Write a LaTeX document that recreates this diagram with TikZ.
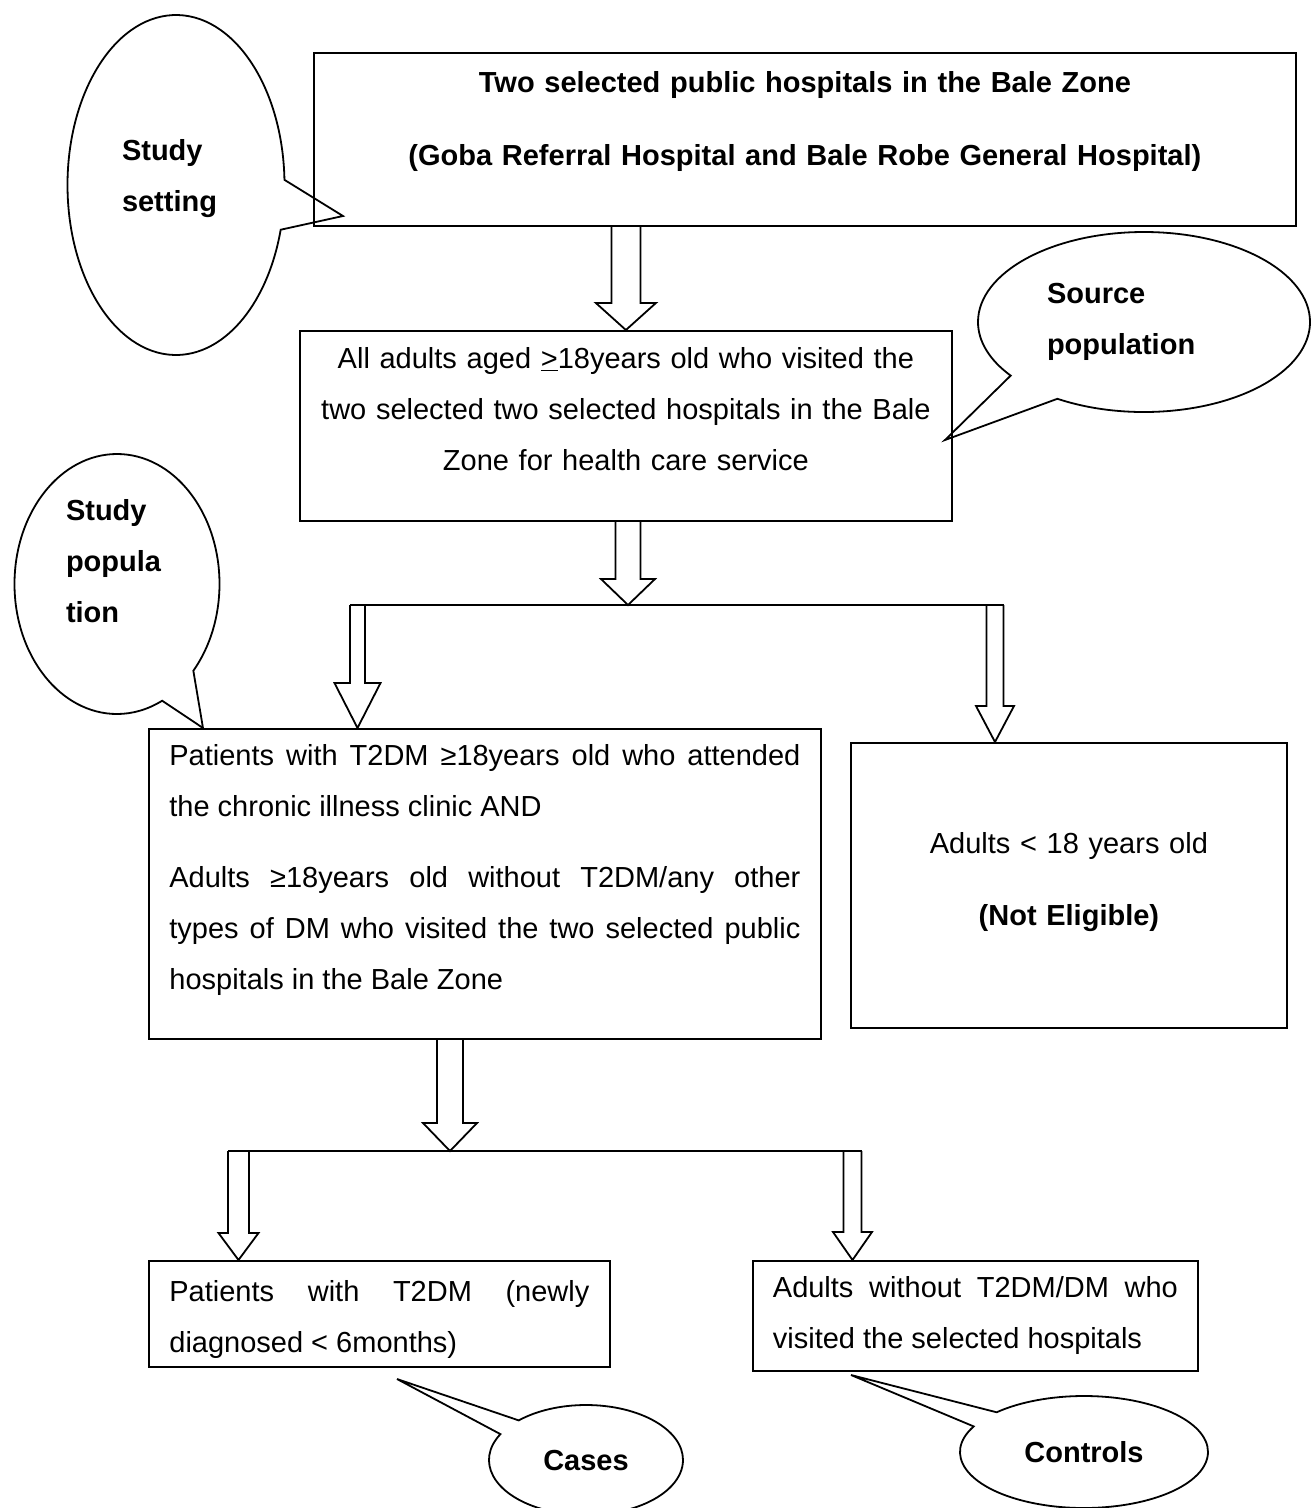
\documentclass[tikz,border=0pt]{standalone}
\usepackage{fontspec}
\setmainfont{Liberation Sans}
\usetikzlibrary{calc,shapes.callouts}

\tikzset{
  box/.style={draw, anchor=north west, inner xsep=20pt, inner ysep=0pt,
    font=\fontsize{29}{51}\selectfont},
  bubble/.style={ellipse callout, draw, align=left, inner sep=0pt,
    callout pointer arc=22, font=\bfseries\fontsize{29}{51}\selectfont},
  hollow/.style n args={3}{to path={let \p1=(\tikztostart), \p2=(\tikztotarget) in
    (\x1-#1,\y1) -- (\x1-#1,\y2+#3) -- (\x1-#2,\y2+#3) -- (\x1,\y2)
    -- (\x1+#2,\y2+#3) -- (\x1+#1,\y2+#3) -- (\x1+#1,\y1)}}
}

\begin{document}
\begin{tikzpicture}[x=1pt,y=-1pt,line width=1.8pt]

      \useasboundingbox (0,0) rectangle (1315,1508);

      \begin{scope}[every node/.style=box]
        \node[text width=942pt, minimum width=982pt, minimum height=173pt, align=center, text depth=115pt] (hosp) at (313,52)
          {\textbf{Two selected public hospitals in the Bale Zone}\\[22pt]\textbf{(Goba Referral Hospital and Bale Robe General Hospital)}};
        \node[inner xsep=10pt, text width=632pt, minimum width=652pt, minimum height=190pt, align=center, text depth=136pt] (adults) at (299,330)
          {All adults aged \underline{>}18years old who visited the\\two selected two selected hospitals in the Bale\\Zone for health care service};
        \node[inner xsep=20.5pt, text width=631pt, minimum width=672pt, minimum height=310pt, align=justify, text depth=258pt] (elig) at (148,728)
          {Patients with T2DM ≥18years old who attended\linebreak the chronic illness clinic AND\\[20pt]Adults ≥18years old without T2DM/any other\linebreak types of DM who visited the two selected public\linebreak hospitals in the Bale Zone};
        \node[text width=396pt, minimum width=436pt, minimum height=285pt, align=center, text depth=85pt] (under) at (850,742)
          {Adults < 18 years old\\[21pt]\textbf{(Not Eligible)}};
        \node[inner xsep=20.5pt, text width=420pt, minimum width=461pt, minimum height=106pt, align=justify, text depth=45pt] (newdm) at (148,1260)
          {Patients with T2DM (newly\linebreak diagnosed < 6months)};
        \node[text width=405pt, minimum width=445pt, minimum height=110pt, align=justify] (nodm) at (752,1260)
          {Adults without T2DM/DM who\linebreak visited the selected hospitals};
      \end{scope}

      \coordinate (j1)  at (628,605);
      \coordinate (j1l) at (357.5,605);
      \coordinate (j1r) at (995,605);
      \coordinate (j2)  at (450,1151);
      \coordinate (j2l) at (238.5,1151);
      \coordinate (j2r) at (852.5,1151);

      \draw[hollow={14.5pt}{30pt}{27pt}] (adults.north |- hosp.south) to (adults.north);
      \draw[hollow={12.5pt}{27pt}{26pt}] (j1 |- adults.south) to (j1);
      \draw ([xshift=-7.5pt]j1l) -- ([xshift=8.5pt]j1r);
      \draw[hollow={7.5pt}{23pt}{45pt}] (j1l) to (j1l |- elig.north);
      \draw[hollow={8.5pt}{19pt}{36pt}] (j1r) to (j1r |- under.north);
      \draw[hollow={13pt}{27pt}{28pt}] (j2 |- elig.south) to (j2);
      \draw ([xshift=-10.5pt]j2l) -- ([xshift=9pt]j2r);
      \draw[hollow={10.5pt}{20pt}{27pt}] (j2l) to (j2l |- newdm.north);
      \draw[hollow={9pt}{19.5pt}{28pt}] (j2r) to (j2r |- nodm.north);

      \begin{scope}[every node/.style=bubble]
        \node[minimum width=217pt, minimum height=340pt, text width=108pt, text depth=71pt, callout absolute pointer={(343,216)}, callout pointer arc=17] (setting) at (176,185) {Study\\setting};
        \node[minimum width=332pt, minimum height=180pt, text width=194pt, callout absolute pointer={(945,440)}] (source) at (1144,322) {Source\\population};
        \node[minimum width=205pt, minimum height=260pt, text width=102pt, text depth=148pt, callout absolute pointer={(203,728)}] (studypop) at (117,584) {Study\\popula\\tion};
        \node[minimum width=194pt, minimum height=110pt, callout absolute pointer={(397,1379)}, callout pointer arc=18] (cases) at (586,1460) {Cases};
        \node[minimum width=248pt, minimum height=112pt, callout absolute pointer={(851,1375)}, callout pointer arc=18] (controls) at (1084,1452) {Controls};
      \end{scope}

    \end{tikzpicture}
\end{document}
